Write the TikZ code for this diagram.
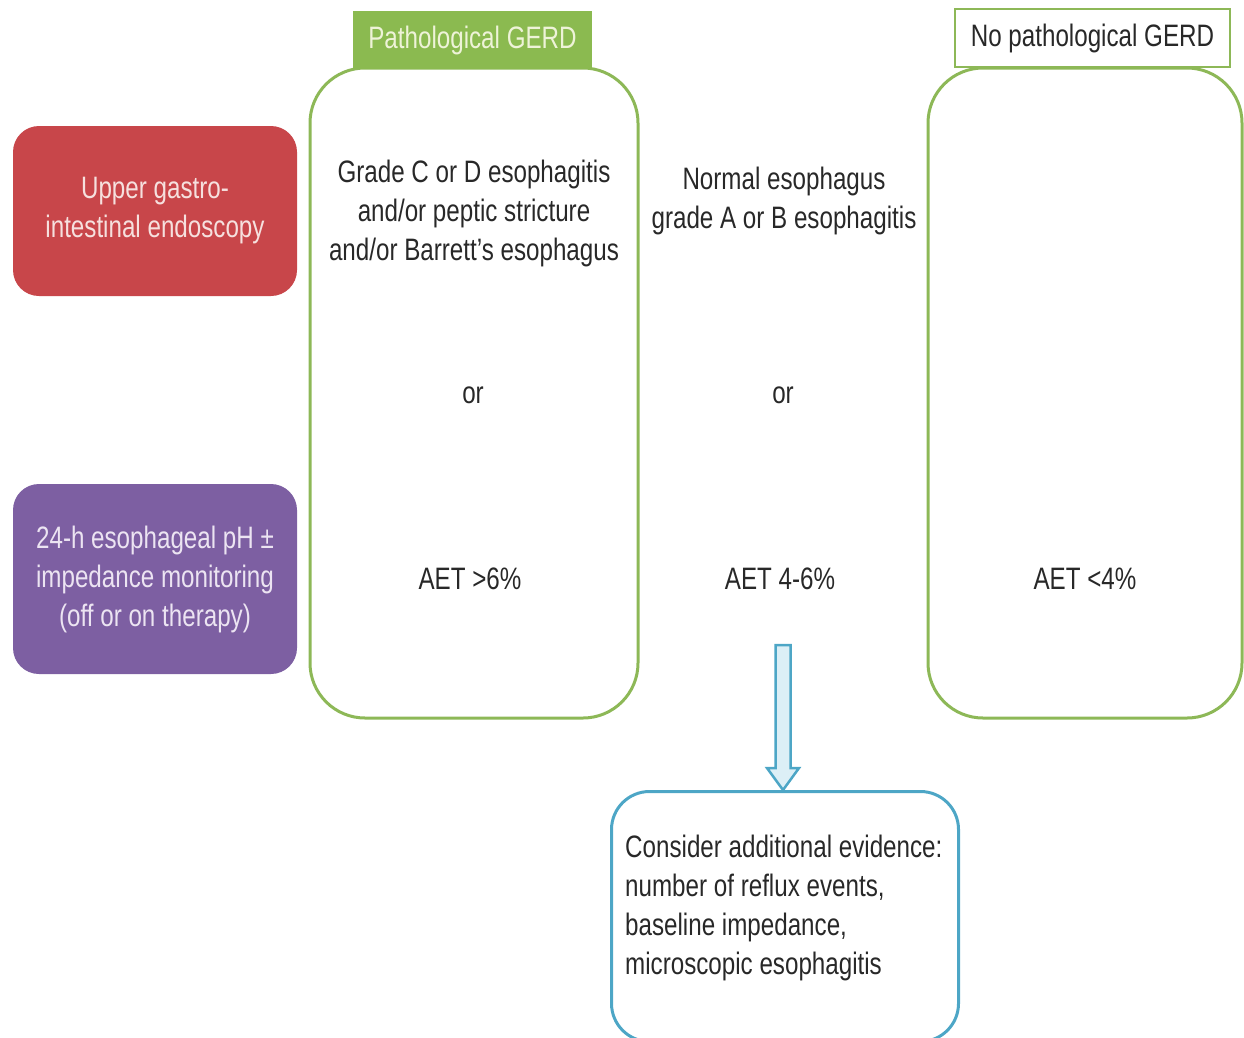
\documentclass[tikz,border=0pt]{standalone}
\usepackage{fontspec}
\usetikzlibrary{calc}
\setmainfont{Liberation Sans}[FakeStretch=0.78]
\definecolor{gstroke}{RGB}{141,184,87}
\definecolor{gfill}{RGB}{139,186,80}
\definecolor{gtext}{RGB}{238,243,216}
\definecolor{redbox}{RGB}{200,70,74}
\definecolor{purplebox}{RGB}{125,95,162}
\definecolor{bluestroke}{RGB}{77,166,198}
\definecolor{bluefill}{RGB}{220,239,246}
\definecolor{dtext}{RGB}{40,40,40}
\definecolor{redtext}{RGB}{246,224,222}
\definecolor{purpletext}{RGB}{236,228,242}
\begin{document}
\begin{tikzpicture}[x=1pt,y=-1pt,
  txt/.style={font=\fontsize{31}{39}\selectfont, text=dtext, align=center, inner sep=0pt},
  sidebox/.style={rounded corners=26pt, minimum width=284pt, minimum height=170pt, align=center, inner sep=0pt, font=\fontsize{31}{39}\selectfont},
  column/.style={draw=gstroke, line width=3pt, rounded corners=55pt},
  ]
\useasboundingbox (0,0) rectangle (1244,1037);
% columns
\draw[column] (310,68) rectangle (638,718);
\draw[column] (928,68) rectangle (1242,718);
% headers
\node[fill=gfill, minimum width=239pt, minimum height=58pt, inner sep=0pt,
      font=\fontsize{31}{39}\selectfont, text=gtext] (hpath) at (472.5,40) {Pathological GERD};
\node[fill=white, draw=gstroke, line width=1.5pt, minimum width=275pt, minimum height=58pt, inner sep=0pt,
      font=\fontsize{31}{39}\selectfont, text=dtext] (hno) at (1092.5,38) {No pathological GERD};
% side boxes
\node[sidebox, fill=redbox, text=redtext] (endo) at (155,211) {Upper gastro-\\intestinal endoscopy};
\node[sidebox, fill=purplebox, text=purpletext, minimum height=190pt] (ph) at (155,579) {24-h esophageal pH ±\\impedance monitoring\\(off or on therapy)};
% column texts
\node[txt] (t1) at (474,213) {Grade C or D esophagitis\\and/or peptic stricture\\and/or Barrett’s esophagus};
\node[txt] (t2) at (784,201) {Normal esophagus\\grade A or B esophagitis};
\node[txt] (or1) at (473,395) {or};
\node[txt] (or2) at (783,395) {or};
\node[txt] (a1) at (470,579) {AET >6\%};
\node[txt] (a2) at (780,579) {AET 4-6\%};
\node[txt] (a3) at (1085,579) {AET <4\%};
% bottom box
\node[draw=bluestroke, line width=3pt, rounded corners=38pt, minimum width=347pt, minimum height=250pt,
      anchor=north west, inner sep=0pt] (ev) at (610,790) {};
\node[txt, align=left, anchor=north west] (evt) at (625,835) {Consider additional evidence:\\number of reflux events,\\baseline impedance,\\microscopic esophagitis};
% hollow arrow
\coordinate (as) at (783,645);
\coordinate (tip) at (ev.north -| as);
\draw[draw=bluestroke, fill=bluefill, line width=2.5pt, line join=miter]
  ($(as)+(-7.5,0)$) -- ($(as)+(7.5,0)$) -- ($(tip)+(7.5,-22)$) -- ($(tip)+(16,-22)$)
  -- (tip) -- ($(tip)+(-16,-22)$) -- ($(tip)+(-7.5,-22)$) -- cycle;
\end{tikzpicture}
\end{document}
